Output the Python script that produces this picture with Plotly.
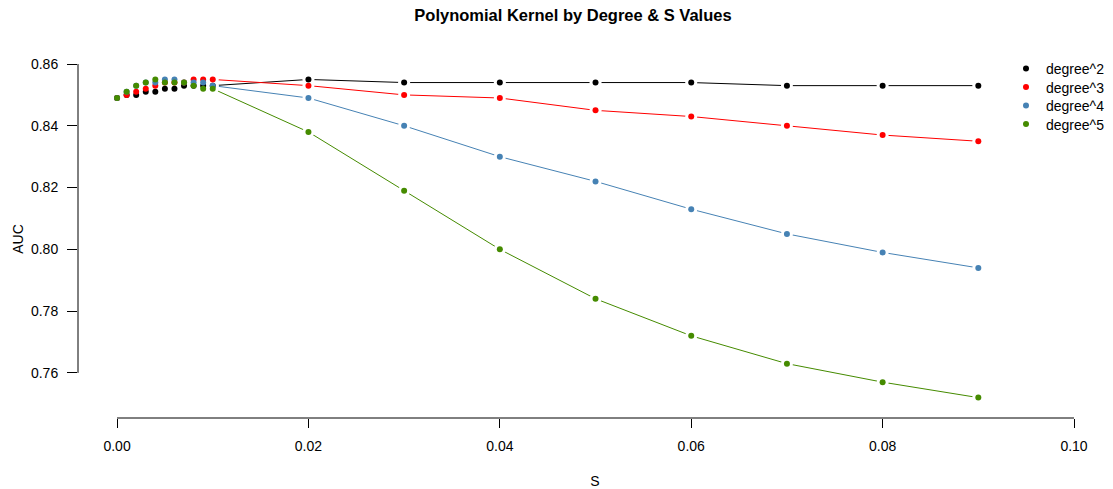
import plotly.graph_objects as go

# S values and AUC for each polynomial degree
s_values = [0.000, 0.001, 0.002, 0.003, 0.004, 0.005, 0.006, 0.007, 0.008, 0.009, 0.010,
            0.02, 0.03, 0.04, 0.05, 0.06, 0.07, 0.08, 0.09]

auc_degree2 = [0.849, 0.850, 0.850, 0.851, 0.851, 0.852, 0.852, 0.853, 0.853, 0.853, 0.853,
               0.855, 0.854, 0.854, 0.854, 0.854, 0.853, 0.853, 0.853]
auc_degree3 = [0.849, 0.850, 0.851, 0.852, 0.853, 0.854, 0.854, 0.854, 0.855, 0.855, 0.855,
               0.853, 0.850, 0.849, 0.845, 0.843, 0.840, 0.837, 0.835]
auc_degree4 = [0.849, 0.851, 0.853, 0.854, 0.854, 0.855, 0.855, 0.854, 0.854, 0.854, 0.853,
               0.849, 0.840, 0.830, 0.822, 0.813, 0.805, 0.799, 0.794]
auc_degree5 = [0.849, 0.851, 0.853, 0.854, 0.855, 0.854, 0.854, 0.854, 0.853, 0.852, 0.852,
               0.838, 0.819, 0.800, 0.784, 0.772, 0.763, 0.757, 0.752]

series_names = ["degree^2", "degree^3", "degree^4", "degree^5"]
series_colors = ["#000000", "#FF0000", "#4682B4", "#458B00"]
series_values = [auc_degree2, auc_degree3, auc_degree4, auc_degree5]

x_ticks = [0.00, 0.02, 0.04, 0.06, 0.08, 0.10]
x_tick_labels = ["0.00", "0.02", "0.04", "0.06", "0.08", "0.10"]
y_ticks = [0.76, 0.78, 0.80, 0.82, 0.84, 0.86]
y_tick_labels = ["0.76", "0.78", "0.80", "0.82", "0.84", "0.86"]

FONT = "Liberation Sans, Arial, Helvetica, sans-serif"
W, H = 1113, 489
ml, mr, mt, mb = 78, 1, 60, 71

fig = go.Figure()

# connecting lines
for color, vals in zip(series_colors, series_values):
    fig.add_trace(go.Scatter(
        x=s_values, y=vals, mode="lines", showlegend=False,
        line=dict(color=color, width=1), hoverinfo="skip"))

# small white discs leave a gap between each line and its points
for vals in series_values:
    fig.add_trace(go.Scatter(
        x=s_values, y=vals, mode="markers", showlegend=False,
        marker=dict(color="white", size=12, line=dict(width=0)), hoverinfo="skip"))

# points, each series in its own one-row legend
legend_names = ["legend", "legend2", "legend3", "legend4"]
legend_rows_px = [69, 87.5, 106, 124.5]
for name, color, vals, lg in zip(series_names, series_colors, series_values, legend_names):
    fig.add_trace(go.Scatter(
        x=s_values, y=vals, mode="markers", name=name, legend=lg,
        marker=dict(color=color, size=6, line=dict(width=0))))

legend_layout = {}
for lg, row in zip(legend_names, legend_rows_px):
    legend_layout[lg] = dict(
        x=1006 / W, xref="container", xanchor="left",
        y=1 - row / H, yref="container", yanchor="middle",
        bgcolor="rgba(0,0,0,0)", font=dict(size=14, color="#000000"),
        itemwidth=30, borderwidth=0)

# R-style detached axis lines spanning only the tick range
fig.add_shape(type="line", xref="x", yref="paper", x0=x_ticks[0], x1=x_ticks[-1],
              y0=0, y1=0, line=dict(color="#000000", width=1))
fig.add_shape(type="line", xref="paper", yref="y", x0=0, x1=0,
              y0=y_ticks[0], y1=y_ticks[-1], line=dict(color="#000000", width=1))

fig.update_layout(
    width=W, height=H,
    margin=dict(l=ml, r=mr, t=mt, b=mb, autoexpand=False),
    paper_bgcolor="white", plot_bgcolor="white",
    font=dict(family=FONT, size=14, color="#000000"),
    title=dict(text="<b>Polynomial Kernel by Degree & S Values</b>",
               x=573 / W, xref="container", xanchor="center",
               y=1 - 15 / H, yref="container", yanchor="middle",
               font=dict(family=FONT, size=16.5, color="#000000")),
    xaxis=dict(range=[-0.00408, 0.10397], showgrid=False, zeroline=False,
               showline=False, ticks="outside", ticklen=9, tickwidth=1,
               tickcolor="#000000", tickvals=x_ticks, ticktext=x_tick_labels,
               tickfont=dict(size=14), ticklabelstandoff=6,
               title=dict(text="S", standoff=23, font=dict(size=14))),
    yaxis=dict(range=[0.7454, 0.8613], showgrid=False, zeroline=False,
               showline=False, ticks="outside", ticklen=10, tickwidth=1,
               tickcolor="#000000", tickvals=y_ticks, ticktext=y_tick_labels,
               tickfont=dict(size=14), ticklabelstandoff=6,
               title=dict(text="AUC", standoff=4, font=dict(size=14))),
    showlegend=True,
    **legend_layout,
)

fig.write_html("out.html")
